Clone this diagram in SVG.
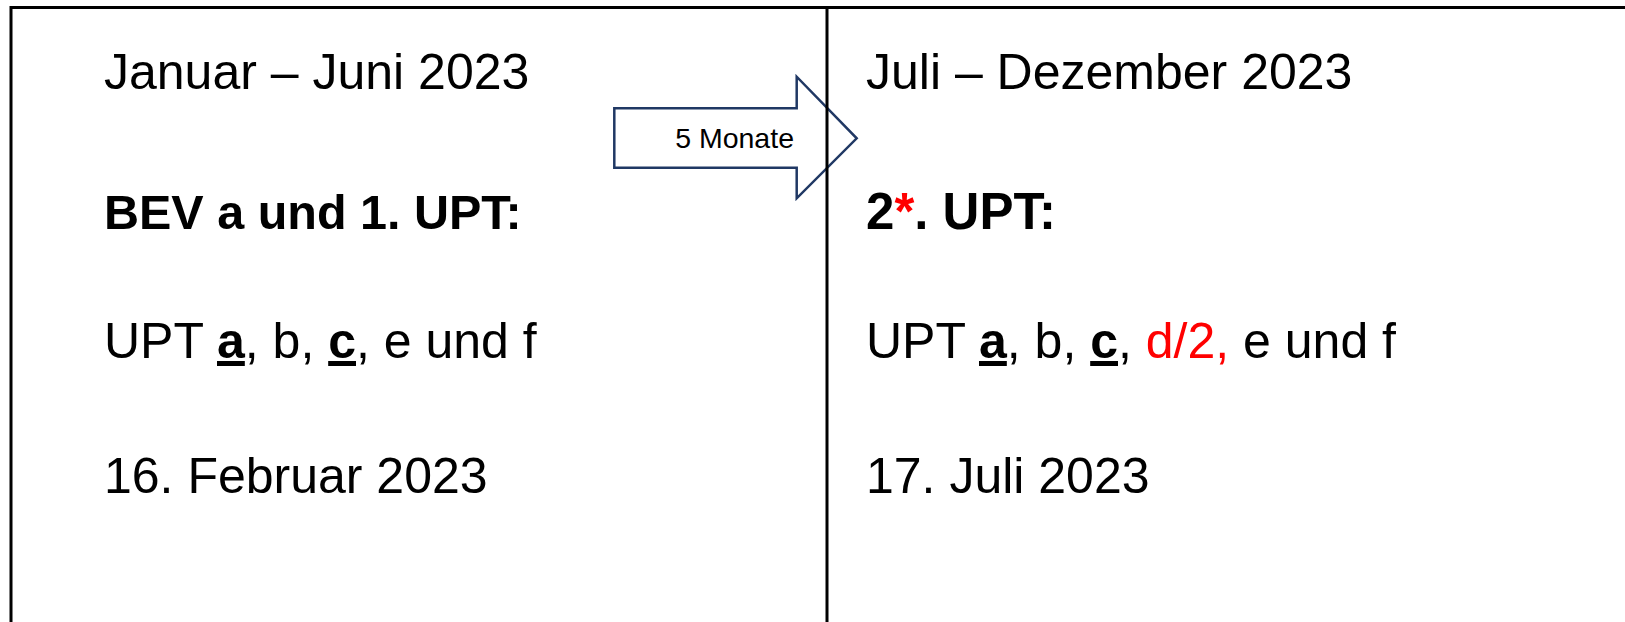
<svg xmlns="http://www.w3.org/2000/svg" width="1625" height="622" viewBox="0 0 1625 622">
  <style>
    .t { font-family: "Liberation Sans", Arial, sans-serif; font-size: 50px; fill: #000; }
    .b { font-weight: bold; font-size: 48.5px; }
    .red { fill: #ff0000; }
    .ul { text-decoration: underline; font-weight: bold; }
    .frame { fill: none; stroke: #000; stroke-width: 3; }
    .arrow { fill: #fff; stroke: #203864; stroke-width: 2.5; stroke-linejoin: miter; }
    .lbl { font-family: "Liberation Sans", Arial, sans-serif; font-size: 28.5px; fill: #000; }
  </style>
  <rect width="1625" height="622" fill="#fff"/>
  <g id="connectors">
    <polygon class="arrow" points="614.3,108.3 796.7,108.3 796.7,76.7 856.7,138.3 796.7,198.3 796.7,167.7 614.3,167.7"/>
    <text class="lbl" x="794" y="148" text-anchor="end">5 Monate</text>
  </g>
  <g id="frame">
    <rect class="frame" x="11" y="7.5" width="1640" height="700"/>
    <line class="frame" x1="827" y1="7.5" x2="827" y2="622"/>
  </g>
  <g id="left-panel">
    <text class="t" x="104" y="89">Januar – Juni 2023</text>
    <text class="t b" x="104" y="229">BEV a und 1. UPT:</text>
    <text class="t" x="104" y="358">UPT <tspan class="ul">a</tspan>, b, <tspan class="ul">c</tspan>, e und f</text>
    <text class="t" x="104" y="493">16. Februar 2023</text>
  </g>
  <g id="right-panel">
    <text class="t" x="866" y="89">Juli – Dezember 2023</text>
    <text class="t b" x="866" y="229" style="font-size:51px">2<tspan class="red">*</tspan>. UPT:</text>
    <text class="t" x="866" y="358">UPT <tspan class="ul">a</tspan>, b, <tspan class="ul">c</tspan>, <tspan class="red">d/2,</tspan> e und f</text>
    <text class="t" x="866" y="493">17. Juli 2023</text>
  </g>
</svg>
